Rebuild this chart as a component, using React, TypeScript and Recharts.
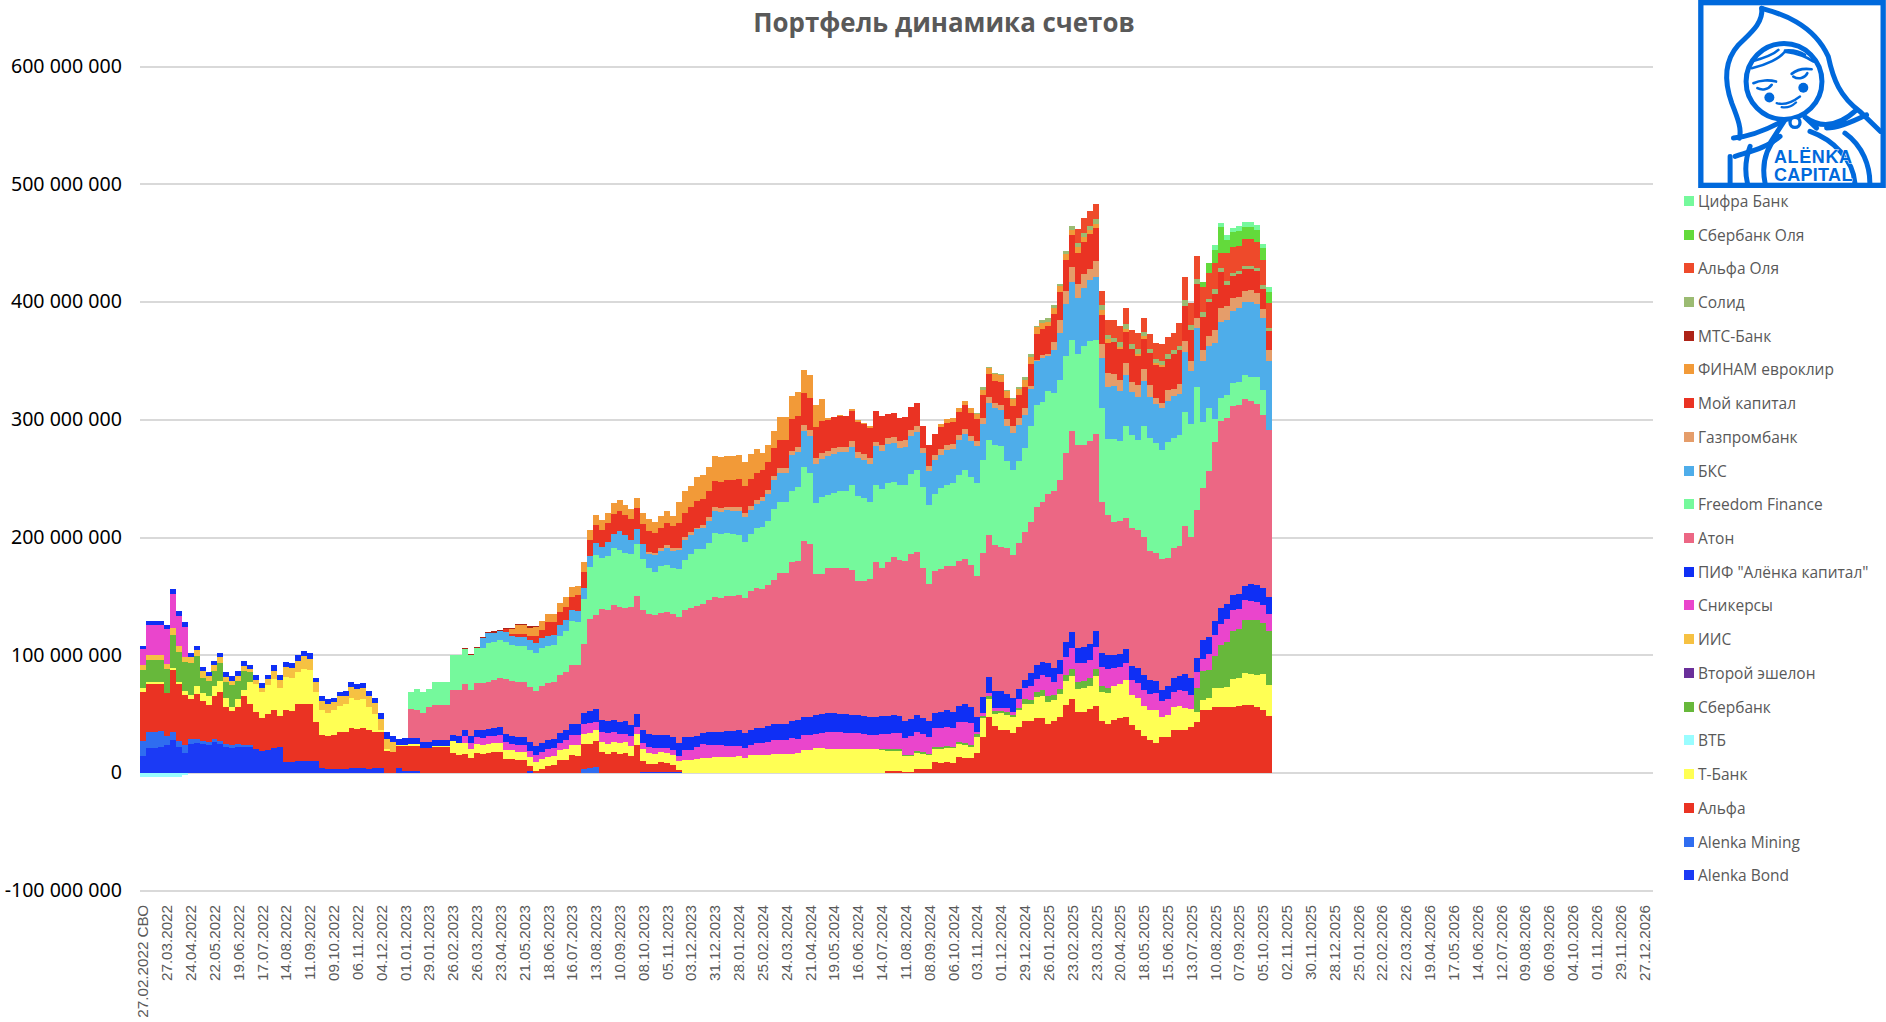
import React from "react";
import { BarChart, Bar, XAxis, YAxis, CartesianGrid } from "recharts";

const tickLabels = [
  "27.02.2022 СВО", "27.03.2022", "24.04.2022", "22.05.2022", "19.06.2022", "17.07.2022", "14.08.2022", "11.09.2022",
  "09.10.2022", "06.11.2022", "04.12.2022", "01.01.2023", "29.01.2023", "26.02.2023", "26.03.2023", "23.04.2023",
  "21.05.2023", "18.06.2023", "16.07.2023", "13.08.2023", "10.09.2023", "08.10.2023", "05.11.2023", "03.12.2023",
  "31.12.2023", "28.01.2024", "25.02.2024", "24.03.2024", "21.04.2024", "19.05.2024", "16.06.2024", "14.07.2024",
  "11.08.2024", "08.09.2024", "06.10.2024", "03.11.2024", "01.12.2024", "29.12.2024", "26.01.2025", "23.02.2025",
  "23.03.2025", "20.04.2025", "18.05.2025", "15.06.2025", "13.07.2025", "10.08.2025", "07.09.2025", "05.10.2025",
  "02.11.2025", "30.11.2025", "28.12.2025", "25.01.2026", "22.02.2026", "22.03.2026", "19.04.2026", "17.05.2026",
  "14.06.2026", "12.07.2026", "09.08.2026", "06.09.2026", "04.10.2026", "01.11.2026", "29.11.2026", "27.12.2026",
];
const weekCount = 254;
const yTicks = [-100, 0, 100, 200, 300, 400, 500, 600];
const yTickLabels = ["-100 000 000", "0", "100 000 000", "200 000 000", "300 000 000", "400 000 000", "500 000 000", "600 000 000"];

const alenkaBond = [
  15, 21.8, 21.8, 22, 24.4, 28.6, 22.7, 17.6, 25.2, 26,
  25, 24.4, 26.9, 25.2, 22.7, 21.8, 22.7, 22.7, 22.7, 21,
  19.3, 20.1, 21.8, 22.7, 9.9, 9.9, 10.8, 10.8, 10.8, 10.8,
  4.8, 4, 4, 4, 4, 4.8, 4.8, 4.8, 4, 4.8,
  4.8, 0, 0, 4.8, 2.3, 2.3, 2.3, 0, 0, 0,
  0, 0, 0, 0, 0, 0, 0, 0, 0, 0,
  0, 0, 0, 0, 0, 2.3, 0, 0, 0, 0,
  0.5, 0.5, 0.5, 0.5, 0, 0, 0, 0, 0, 0,
  0, 0, 0, 0, 0.8, 0.8, 0.8, 0.8, 0.8, 0.8,
  0.8,
];
const alenkaMining = [
  12.8, 13.6, 13.6, 13.6, 7.6, 6, 5, 6, 4.2, 3.4,
  2.5, 2.5, 2.5, 2.5, 2.5, 2.5, 2.5, 1.7, 1.7, 0,
  0, 0, 0, 0, 0, 0, 0, 0, 0, 0,
  0, 0, 0, 0, 0, 0, 0, 0, 0, 0,
  0, 0, 0, 0, 0, 0, 0, 0, 0, 0,
  0, 0, 0, 0, 0, 0, 0, 0, 0, 0,
  0, 0, 0, 0, 0, 0, 0, 0, 0, 0,
  0, 0, 0, 0, 3.4, 4.2, 5.1,
];
const alfa = [
  40.8, 40, 40, 40, 36.5, 52.7, 48.4, 42.5, 34, 38.2,
  34, 31.4, 36.5, 41.6, 31.4, 28.9, 31.4, 40.8, 34, 31.4,
  28, 30.6, 32.3, 25.5, 44.2, 43.3, 47.6, 48.4, 47.6, 32.3,
  28, 28, 28.9, 30.6, 30.6, 34, 33.1, 34, 33.1, 30.6,
  30.6, 19.3, 18.4, 18.7, 21.2, 21.2, 21.2, 21.8, 21.8, 22.7,
  22.7, 22.7, 17.6, 15.9, 16.7, 13.3, 17.6, 16.7, 17.6, 18.4,
  18.4, 12.5, 12.5, 11.6, 11.6, 4.2, 2.3, 4, 6.5, 6.8,
  11, 11, 15.3, 14.4, 21.2, 20.4, 22, 17.8, 16.1, 17.8,
  16.1, 17, 14.4, 23.8, 9.4, 6.8, 6.8, 8.5, 7.7, 6,
  1.7, 0, 0, 0, 0, 0, 0, 0, 0, 0,
  0.6, 0, 0, 0, 0, 0, 0, 0, 0, 0,
  0, 0, 0, 0, 0, 0, 0, 0, 0, 0,
  0, 0, 0, 0, 0, 1.7, 1.7, 1.7, 0.8, 0.8,
  3.4, 3.4, 3.4, 9.3, 8.5, 9.3, 9.1, 13.4, 12.7, 12.7,
  17.6, 30.6, 47.6, 40, 37.1, 37.1, 33.9, 39.1, 44.6, 44,
  46.6, 46.6, 41.4, 44, 47.6, 57.7, 62.9, 51.8, 51.8, 54.4,
  57, 44, 41.4, 45, 46.6, 47.6, 40.7, 36.5, 31.3, 28,
  26.1, 30.6, 30.6, 37.1, 37.1, 37.1, 39.1, 43.3, 53.4, 53.4,
  56, 56, 56, 56, 56.7, 57.7, 57.7, 56, 53.4, 48.2,
];
const tBank = [
  3.4, 1.7, 1.7, 1.7, 0, 1.7, 1.7, 3.4, 3.4, 6.8,
  6.8, 7.6, 8.5, 9.3, 7.6, 3.4, 6.8, 5.9, 18.7, 23.8,
  22.1, 24.6, 26.3, 23.8, 28, 28, 27.2, 29.7, 28.9, 25.5,
  21.2, 19.5, 20.4, 22.9, 23.8, 25.5, 24.6, 24.6, 19.5, 15.3,
  1.7, 1.7, 0, 0.8, 0.8, 1.7, 1.7, 0, 0, 0.8,
  0.8, 0.8, 10.2, 10.2, 9.3, 7.6, 7.6, 7.6, 7.6, 7.6,
  7.6, 7.6, 7.6, 6.8, 6.8, 7.6, 7.6, 8.5, 7.6, 7.6,
  8.5, 9.3, 8.5, 9.3, 8.5, 9.3, 9.3, 8.5, 8.5, 8.5,
  9.3, 9.3, 8.5, 9.3, 10.2, 9.3, 8.5, 8.5, 8.5, 8.5,
  7.6, 11, 11, 11.9, 12.7, 12.7, 13.6, 13.6, 13.6, 13.6,
  13.8, 12.7, 15.3, 15.3, 15.3, 15.3, 16.1, 16.1, 16.1, 16.1,
  17, 19.5, 19.5, 21.2, 21.2, 20.4, 20.4, 20.4, 20.4, 20.4,
  20.4, 20.4, 20.4, 20.4, 19.5, 17, 17, 17, 13.6, 13.6,
  13.6, 12.7, 11.9, 11, 11.9, 11.9, 12.4, 11.1, 11.7, 9.8,
  13.4, 16, 15.3, 10.7, 13.7, 12.7, 13.7, 14.7, 14.3, 14.7,
  18.2, 18.9, 18.9, 18.2, 19.5, 20.5, 19.5, 19.9, 20.8, 19.5,
  25.4, 25.4, 26.4, 28.7, 29, 31.3, 25.4, 27, 25.7, 25.7,
  27.7, 16.9, 18.6, 18.9, 19.9, 18.6, 15.6, 9.1, 9.1, 10.4,
  16.3, 16.3, 17.6, 23.8, 24.1, 27.4, 26.4, 27.4, 30.6, 26.4,
];
const vtb = [-3.5, -3.5, -3.5, -3.5, -3.5, -3.5, -3.5, -1.4];
const sberbank = [
  15.3, 18.7, 18.7, 18.7, 20.4, 28, 25.5, 24.6, 27.2, 25.5,
  12.7, 12.7, 12.7, 15.3, 13.6, 18.7, 15.3, 16.1, 8.5, 0,
  0, 0, 0, 0, 0, 0, 0, 0, 0, 0,
  0, 0, 0, 0, 0, 0, 0, 0, 0, 0,
  0, 0, 0, 0, 0, 0, 0, 0, 0, 0,
  0, 0, 0, 0, 0, 0, 0, 0, 0, 0,
  0, 0, 0, 0, 0, 0, 0, 0, 0, 0,
  0, 0, 0, 0, 0, 0, 0, 0, 0, 0,
  0, 0, 0, 0, 0, 0, 0, 0, 0, 0,
  0, 0, 0, 0, 0, 0, 0, 0, 0, 0,
  0, 0, 0, 0, 0, 0, 0, 0, 0, 0,
  0, 0, 0, 0, 0, 0, 0, 0, 0, 0,
  0, 0, 0, 0, 0.8, 1.7, 1.7, 1.7, 0.8, 0.8,
  1.7, 1.7, 0.8, 1.7, 1.7, 1.7, 1, 2.3, 1.3, 1.6,
  2, 1.6, 2.6, 2, 2.3, 2.6, 2, 2, 3.9, 3.6,
  3.9, 4.9, 5.2, 4.6, 4.2, 4.9, 6.5, 5.9, 5.5, 6.8,
  6.5, 4.9, 4.9, 0, 0, 0, 0, 0, 0, 0,
  0, 0, 0, 0, 0, 0, 0, 20.2, 24.1, 23.5,
  27, 36.2, 38.1, 41.4, 42, 45, 45.9, 46.6, 44, 46.3,
];
const vtoroyEshelon: number[] = [];
const iis = [
  4.2, 4.2, 4.2, 4.2, 4.2, 6, 5, 5, 5, 5,
  6, 4.2, 5, 5, 4.2, 3.4, 4.2, 4.2, 2.5, 3.4,
  3.4, 5.1, 6.8, 7.6, 8.5, 8.5, 9.3, 11, 9.3, 8.5,
  7.6, 7.6, 7.6, 8.5, 7.6, 9.3, 9.3, 9.3, 9.3, 9.3,
  9.3, 8.5, 8.5,
];
const snickers = [
  14.4, 25.5, 25.5, 25.5, 29.7, 28.9, 25.5, 25.5, 0, 0,
  0, 0, 0, 0, 0, 0, 0, 0, 0, 0,
  0, 0, 0, 0, 0, 0, 0, 0, 0, 0,
  0, 0, 0, 0, 0, 0, 0, 0, 0, 0,
  0, 0, 0, 0, 0, 0, 0, 0, 0, 0,
  0, 0, 0, 0, 5.9, 5.1, 5.9, 5.9, 6.8, 5.9,
  6.8, 6.8, 5.1, 5.9, 5.9, 5.1, 5.9, 5.9, 6.8, 6.8,
  5.9, 7.6, 8.5, 8.5, 8.5, 8.5, 6.8, 8.5, 9.3, 8.5,
  7.6, 6.8, 8.5, 5.9, 5.1, 5.1, 5.1, 3.4, 4.2, 4.2,
  4.2, 8.5, 8.5, 10.2, 11.9, 11, 10.2, 10.2, 9.3, 9.3,
  8.5, 8.5, 8.5, 10.2, 10.2, 11, 11.9, 11.9, 11.9, 13.6,
  11.9, 12.7, 12.7, 11.9, 12.7, 14.4, 14.4, 14.4, 14.1, 13.6,
  13.6, 13, 12.5, 12.5, 12.7, 12.7, 13.6, 13.6, 14.4, 16.1,
  16.1, 15.3, 14.4, 16.1, 16.1, 16.1, 15.6, 16.6, 18.2, 18.9,
  2, 2.9, 2.3, 2.9, 2.6, 3.3, 2.3, 7.5, 9.8, 11.4,
  11.1, 13, 16.3, 10.4, 12.7, 15.6, 17.3, 15.6, 15.3, 15.3,
  18.2, 15.6, 15.6, 15.3, 14.7, 14.7, 12.7, 13.4, 13.7, 14,
  14, 14, 13.7, 13.4, 13.4, 14, 11.4, 13, 10.1, 14,
  17.9, 18.6, 19.5, 17.3, 16.6, 17.3, 16.3, 15.3, 14.7, 14.3,
];
const pifAlenka = [
  2.5, 3.4, 3.4, 3.4, 3.4, 4.2, 4.2, 4.2, 3.4, 3.4,
  3.4, 3.4, 3.4, 3.4, 4.2, 4.2, 4.2, 4.2, 4.2, 4.2,
  4.2, 3.4, 5.1, 4.2, 4.2, 4.2, 5.1, 4.2, 5.1, 4.2,
  4.2, 4.2, 3.4, 3.4, 4.2, 4.2, 4.2, 4.2, 4.2, 4.2,
  5.1, 5.9, 5.1, 5.1, 5.9, 5.1, 5.1, 5.1, 5.1, 5.1,
  5.1, 5.1, 5.1, 5.9, 5.1, 5.9, 5.9, 6.8, 5.9, 6.8,
  6.8, 6.8, 6.8, 6.8, 6.8, 7.6, 7.6, 7.6, 7.6, 7.6,
  8.5, 8.5, 9.3, 9.3, 9.3, 10.2, 11, 10.2, 10.2, 10.2,
  10.2, 11, 9.3, 11, 11, 11, 11, 11, 11, 11,
  11, 11, 11, 9.3, 9.3, 11, 11, 11, 12.7, 12.7,
  13.6, 12.7, 12.7, 12.7, 12.7, 13.6, 13.6, 13.6, 13.6, 14.4,
  16.1, 15.3, 15.3, 16.1, 16.1, 16.1, 16.1, 15.8, 15.6, 15.3,
  15.3, 15, 14.7, 14.7, 15.3, 15.3, 15.3, 14.4, 14.4, 14.4,
  14.4, 13.6, 13.6, 12.7, 13.6, 14.4, 14.3, 14, 14.7, 13,
  13, 13.4, 13.7, 14, 14, 12, 12.4, 8.1, 6.2, 11.4,
  12, 11.4, 11.7, 12, 12, 13, 13.7, 13, 13.7, 13.7,
  13.7, 12, 11.7, 11.1, 10.7, 11.7, 12, 12.4, 12.7, 11.1,
  10.4, 9.4, 11.1, 11.4, 12, 14.3, 15, 12, 16.3, 14.3,
  12, 13.4, 12.4, 13, 12.7, 11.7, 14.3, 14.3, 14.7, 14.3,
];
const aton = [
  24.6, 23.8, 24.6, 29.7, 29.7, // from week 45
  29.7, 29.7, 38.2, 39, 39, 39, 39.9, 39.9, 40, 40.8,
  41.6, 46.7, 46.7, 46.7, 46.7, 46.7, 46.7, 48.4, 48.4, 48.4,
  49.3, 49.3, 50.1, 50.1, 58.6, 78.2, 79.9, 94.3, 94.3, 97.7,
  97.7, 96, 100.3, 100.3, 102, 102, 102, 103.7, 104.5, 104.5,
  107, 107.9, 109.6, 110.5, 109.6, 112.2, 114.8, 113.9, 114.7, 114.7,
  114.7, 114.7, 117.9, 119, 118.1, 119.8, 122.4, 128.3, 128.3, 135.1,
  135.1, 149.6, 147, 120.4, 119.5, 123.8, 123.8, 123.5, 124.1, 123.3,
  113.9, 114.7, 117, 132.2, 125.8, 130.9, 134.3, 132.6, 136, 140.2,
  138.5, 127.5, 116.7, 120.7, 121.5, 122.4, 123.5, 123.1, 123.5, 121.2,
  119.9, 122.5, 120.8, 124.1, 122.5, 123.5, 120.8, 124.1, 125.7, 128.3,
  134.5, 135.8, 143.6, 150.5, 153.1, 160.6, 170.4, 172.3, 172, 172.6,
  167.4, 128.7, 119.5, 113, 113.4, 111.7, 117.6, 117.6, 116.9, 110.1,
  109.1, 111.1, 108.8, 110.4, 110.7, 126, 119.2, 126, 129.3, 141,
  151.8, 158.3, 158.3, 160.3, 160.3, 158.3, 155.4, 154.1, 147.2, 141.7,
];
const freedom = [
  14.4, 17.8, 17.8, 15.3, 19.5, // from week 45
  19.5, 19.5, 28.9, 29.7, 29.7, 29.7, 29.7, 29.7, 33.1, 32.3,
  32.3, 31.4, 30.6, 30.6, 30.6, 31.4, 32.3, 32.3, 31.1, 31.4,
  33.1, 34.8, 37.4, 36.5, 38.2, 44.2, 51, 43.3, 45.9, 48.4,
  48.4, 46.7, 45, 44.2, 43.3, 39.1, 36.5, 39.9, 39.9, 39.1,
  40.8, 42.5, 45.9, 48.4, 46.7, 48.4, 54.4, 54.4, 53.5, 52.7,
  51, 47.6, 48.4, 51, 52.7, 54.4, 60.3, 60.3, 60.3, 60.3,
  62.9, 62.9, 60.3, 60.3, 65.4, 62, 63.7, 65.4, 65.4, 72.2,
  72.2, 70.5, 65.4, 64.6, 67.1, 67.1, 63.7, 63.7, 64.6, 68,
  69.7, 68.8, 67.1, 65.4, 68.8, 68.8, 70.7, 72.6, 75.6, 74.6,
  78.8, 79.2, 81.1, 84.7, 85.3, 73.6, 72.6, 70, 72, 81.1,
  86.6, 85, 87.9, 83.1, 85, 82.1, 77.2, 77.9, 83.4, 84.4,
  80.1, 79.2, 64.5, 70.4, 67.4, 78.2, 79.2, 75.9, 94.8, 96.1,
  92.8, 92.8, 98.7, 93.8, 94.5, 97.1, 96.7, 104.6, 56.4, 53.7,
  19.5, 19.9, 18.9, 19.2, 20.2, 20.5, 20.8, 22.5, 21.2, 0,
];
const bks = [
  8.5, 8.5, 7.6, // from week 57
  7.6, 8.5, 7.6, 7.6, 7.6, 8.5, 8.5, 8.5, 8.5, 8.5,
  9.3, 9.3, 9.3, 9.3, 9.3, 9.3, 10.2, 9.3, 11.9, 11.9,
  16.1, 15.3, 11.9, 12.7, 12.7, 11.9, 14.4, 12.7, 14.4, 14.4,
  16.1, 17, 16.1, 17, 17.8, 18.7, 18.7, 18.7, 19.5, 20.1,
  20.4, 21.2, 20.4, 20.4, 22, 22.9, 24.6, 24.6, 24.6, 30.6,
  29.7, 30.6, 31.4, 33.1, 32.3, 33.1, 32.3, 33.1, 33.1, 32.3,
  32.3, 32.3, 32.3, 33.1, 32.3, 33.1, 33.1, 31.4, 32.3, 32.3,
  32.3, 28.9, 28.9, 28.9, 28, 29.5, 29, 30.3, 30, 30,
  30.9, 30.6, 30.6, 31.6, 30.6, 30, 31.6, 30.6, 27.4, 31.6,
  36.8, 36.8, 29.3, 36.2, 40, 44, 49.5, 46.9, 49.2, 51.8,
  52.8, 42.7, 44.3, 45, 42.7, 42.7, 35.8, 37.1, 38.1, 34.9,
  33.2, 35.2, 34.9, 35.2, 34.2, 50.2, 44.6, 50.2, 51.5, 52.1,
  65.1, 64.5, 64.5, 61.2, 62.5, 61.9, 63.8, 62.5, 60.9, 59.3,
];
const gazprombank = [
  1.7, 1.7, 2.5, 2.5, 2.5, // from week 85
  2.5, 2.5, 2.5, 0.8, 2.5, 3.4, 3.4, 3.4, 2.5, 2.8,
  3.4, 3.4, 3.4, 3.4, 3.4, 3.4, 3.4, 4.2, 4.2, 3.4,
  4.2, 5.1, 5.1, 5.1, 5.1, 4.2, 5.1, 4.2, 4.2, 5.1,
  5.1, 5.1, 5.1, 4.2, 5.1, 5.1, 5.1, 5.9, 5.9, 5.1,
  5.1, 4.2, 4.2, 4.2, 5.1, 4.5, 4.2, 4.2, 4.9, 4.2,
  4.2, 4.9, 5.9, 4.6, 4.9, 5.9, 5.2, 5.9, 5.9, 2.6,
  1.6, 2.6, 1.6, 7.5, 10.4, 11.4, 12.7, 12.4, 12, 10.1,
  13.7, 11.7, 12, 10.4, 9.8, 10.1, 9.1, 9.4, 9.8, 10.1,
  5.2, 4.6, 8.8, 6.5, 9.1, 9.4, 8.8, 7.8, 8.8, 9.1,
  11.1, 11.7, 11.4, 11.1, 9.4, 9.4, 9.4, 9.1, 7.2, 8.5,
];
const moyKapital = [
  2.5, 1.7, 2.5, 2.5, 3.4, 5.9, 6.8, 11.9, 11, // from week 61
  11, 11, 11, 13.6, 13.6, 13.6, 15.3, 14.4, 16.1, 17,
  17, 17, 17.8, 17.8, 17, 17.8, 17, 17, 18.7, 18.7,
  21.2, 20.4, 21.2, 22.9, 22, 22, 22, 22, 22.9, 22.9,
  23.8, 22.9, 22.9, 22.9, 22.9, 23.8, 23.8, 23.8, 23.8, 27.2,
  26.3, 27.2, 27.2, 26.3, 27.2, 26.3, 26.3, 26.3, 26.3, 25.5,
  25.5, 25.5, 25.5, 25.5, 24.6, 20.4, 20.4, 19.5, 19.5, 19.5,
  19.5, 18.7, 17.8, 17.8, 18.7, 18.7, 18.6, 19.5, 19.9, 19.5,
  18.9, 19.9, 19.5, 18.6, 19.2, 17.9, 17.6, 18.9, 17.9, 19.2,
  22.1, 22.1, 23.8, 23.1, 24.1, 25.7, 27.4, 26.1, 27.7, 29,
  28, 25.1, 25.1, 27, 25.7, 27, 28, 25.1, 25.4, 26.7,
  28.3, 30.3, 27, 29, 28.3, 30.3, 26.4, 29.6, 28.7, 28.3,
  30.6, 30.9, 17.9, 19.2, 19.2, 18.9, 17.9, 18.6, 17.6, 16.6,
];
const finamEuroclear = [
  4.2, 7.6, 7.6, 6.8, 7.6, 7.6, 6.8, 6.8, // from week 62
  7.6, 8.5, 8.5, 7.6, 8.5, 8.5, 8.5, 8.5, 8.5, 9.3,
  9.3, 8.5, 8.5, 8.5, 9.3, 10.2, 9.3, 10.2, 10.2, 8.5,
  17.8, 18.7, 17.8, 20.4, 20.4, 20.4, 21.2, 21.2, 20.4, 20.4,
  20.4, 20.4, 21.2, 20.4, 14.4, 14.4, 14.4, 19.5, 19.5, 19.5,
  20.4, 19.5, 19.5, 18.7, 18.7, 1.7, 0.8, 0.8, 0, 1.7,
  1.7, 0.8, 1.7, 0.8, 0, 0, 0, 0, 0, 0,
  0, 0, 0, 0, 2.5, 3.4, 3.3, 3.3, 3.3, 4.9,
  4.2, 4.2, 4.6, 5.5, 6.2, 5.9, 5.5, 5.2, 6.5, 5.5,
  5.5, 4.9, 3.9, 5.2, 4.9, 5.5, 4.6, 4.9, 4.2, 3.6,
  3.9, 4.2, 3.6, 0, 2, 2.3, 0, 1.6, 2.6, 0,
  2, 2,
];
const mtsBank = [
  0.8, 0.8, 0.8, 0.8, 0.8, 1.7, 0.8, 0.8, 0.8, 0.8, // from week 54
  0.8, 1.7, 0.8,
];
const solid = [
  1, 2, 1.3, 1, 0.3, 0.7, 1.3, 1.6, 2.6, 2.6, // from week 140
  1, 2.6, 2.6, 2.6, 2.3, 2.3, 2.9, 3.6, 2.9, 3.3,
  3.9, 3.9, 3.3, 3.9, 3.9, 3.9, 3.6, 4.6, 3.3, 3.3,
  3.3, 3.3, 3.6, 3.3, 3.3, 4.6, 3.6, 3.6, 3.6, 3.3,
  3.6, 3.3, 3.3, 2.6, 2.6, 2.9, 2.9, 2.6, 2.9, 2.9,
];
const alfaOlya = [
  11.7, 12.7, 13, // from week 157
  12.7, 11.7, 13, 15, 13.7, 13.7, 12.7, 13.4, 12.7, 12.7,
  13, 14, 14.3, 15, 19.5, 19.5, 18.6, 19.5, 21.5, 21.8,
  22.8, 13, 24.1, 22.1, 21.8, 22.5, 22.5, 21.8, 21.2, 20.5,
];
const sberOlya = [4.2, 8.8, 10.7, 21.5, 10.7, 12.4, 12.7, 10.7, 10.4, 10.4, 10.1, 9.8]; // from week 178
const tsifra = [3.9, 3.3, 4.2, 3.3, 3.6, 4.2, 4.6, 4.2, 3.6, 3.9]; // from week 180

// stack order, bottom to top
const seriesList = [
  { key: "Alenka Bond", color: "#1B3AF5", values: alenkaBond, start: 0 },
  { key: "Alenka Mining", color: "#2F6DF0", values: alenkaMining, start: 0 },
  { key: "Альфа", color: "#EA3323", values: alfa, start: 0 },
  { key: "Т-Банк", color: "#FFFF54", values: tBank, start: 0 },
  { key: "ВТБ", color: "#99FDFF", values: vtb, start: 0 },
  { key: "Сбербанк", color: "#67B83B", values: sberbank, start: 0 },
  { key: "Второй эшелон", color: "#6A2F9A", values: vtoroyEshelon, start: 0 },
  { key: "ИИС", color: "#F6C142", values: iis, start: 0 },
  { key: "Сникерсы", color: "#EA45CC", values: snickers, start: 0 },
  { key: 'ПИФ "Алёнка капитал"', color: "#0F2FF5", values: pifAlenka, start: 0 },
  { key: "Атон", color: "#EC6784", values: aton, start: 45 },
  { key: "Freedom Finance", color: "#75F99C", values: freedom, start: 45 },
  { key: "БКС", color: "#4EADEA", values: bks, start: 57 },
  { key: "Газпромбанк", color: "#E59D6A", values: gazprombank, start: 85 },
  { key: "Мой капитал", color: "#EA3323", values: moyKapital, start: 61 },
  { key: "ФИНАМ евроклир", color: "#F29A38", values: finamEuroclear, start: 62 },
  { key: "МТС-Банк", color: "#AD2317", values: mtsBank, start: 54 },
  { key: "Солид", color: "#9BBB72", values: solid, start: 140 },
  { key: "Альфа Оля", color: "#EE4A2B", values: alfaOlya, start: 157 },
  { key: "Сбербанк Оля", color: "#63DA3B", values: sberOlya, start: 178 },
  { key: "Цифра Банк", color: "#75F99C", values: tsifra, start: 180 },
];

const chartData = Array.from({ length: weekCount }, (_, week) => {
  const row: Record<string, number> = { week };
  seriesList.forEach((s) => {
    row[s.key] = s.values[week - s.start] ?? 0;
  });
  return row;
});

const WeekTick = ({ x, y, payload }: any) => {
  const label = tickLabels[payload.value / 4];
  if (!label) return null;
  return (
    <text
      transform={`translate(${x},${y + 6}) rotate(-90)`}
      textAnchor="end"
      dy="0.36em"
      fontFamily="'Liberation Sans', Arial, sans-serif"
      fontSize={15.2}
      fill="#595959"
    >
      {label}
    </text>
  );
};

const ValueTick = ({ x, y, payload }: any) => (
  <text x={x - 12} y={y - 1} dy="0.36em" textAnchor="end" fontFamily="'Noto Sans', sans-serif" fontSize={19.6} fill="#000000">
    {yTickLabels[yTicks.indexOf(payload.value)]}
  </text>
);

const LegendList = () => (
  <div
    style={{
      position: "absolute",
      left: 1684,
      top: 184,
      fontFamily: "'Open Sans', 'Noto Sans', sans-serif",
      fontSize: 15.5,
      color: "#595959",
    }}
  >
    {[...seriesList].reverse().map((s) => (
      <div key={s.key} style={{ display: "flex", alignItems: "center", height: 33.73, whiteSpace: "nowrap" }}>
        <span style={{ width: 10, height: 10, background: s.color, marginRight: 4, flex: "none" }} />
        {s.key}
      </div>
    ))}
  </div>
);

const Logo = () => (
  <svg viewBox="84 0 564 565" width={188} height={188} style={{ position: "absolute", left: 1698, top: 0 }}>
    <rect x="92" y="8" width="548" height="549" fill="#FFFFFF" stroke="#0069DC" strokeWidth="16" />
    <g fill="none" stroke="#0069DC" strokeWidth="15" strokeLinecap="round">
      <path d="M275 25 C280 70 240 100 205 135 C165 180 160 240 185 310 C205 360 215 390 208 415" />
      <path d="M275 25 C330 40 430 70 475 170 C490 240 510 290 570 335 L632 395" />
      <circle cx="342" cy="245" r="114" />
      <path d="M245 205 C290 195 330 175 345 155 M245 185 C280 175 310 165 325 150 M345 155 C380 160 410 170 430 185 M345 152 C370 150 390 155 405 165" strokeWidth="8" />
      <path d="M250 250 C270 240 300 240 318 245 M262 265 C275 272 295 270 305 255" strokeWidth="8" />
      <path d="M365 222 C385 205 405 205 425 208 M370 230 C385 240 405 235 412 220" strokeWidth="8" />
      <path d="M320 310 C345 318 370 305 390 290 M335 322 C350 325 365 320 378 308" strokeWidth="7" />
      <path d="M190 415 C240 410 300 385 345 360 M195 470 C240 455 290 445 330 410 M345 360 L300 430" />
      <path d="M405 352 C450 385 500 385 560 330 M470 385 C510 385 560 360 590 345 M405 352 L440 385" />
      <path d="M180 470 L180 550 M240 440 C225 480 225 520 232 550 M285 550 C275 500 285 450 320 410" />
      <path d="M420 395 C490 420 550 480 555 550 M525 400 C580 440 600 500 600 550" />
    </g>
    <circle cx="298" cy="293" r="15" fill="#0069DC" />
    <circle cx="400" cy="264" r="15" fill="#0069DC" />
    <circle cx="375" cy="368" r="15" fill="#FFFFFF" stroke="#0069DC" strokeWidth="10" />
    <text x="430" y="490" textAnchor="middle" fontFamily="'Liberation Sans', sans-serif" fontWeight="700" fontSize="54" fill="#0069DC" stroke="#FFFFFF" strokeWidth="3" paintOrder="stroke" letterSpacing="2">
      ALËNKA
    </text>
    <text x="430" y="545" textAnchor="middle" fontFamily="'Liberation Sans', sans-serif" fontWeight="700" fontSize="54" fill="#0069DC" stroke="#FFFFFF" strokeWidth="3" paintOrder="stroke" letterSpacing="1">
      CAPITAL
    </text>
  </svg>
);

const App = () => {
  return (
    <div style={{ position: "absolute", left: 0, top: 0, width: 1886, height: 1022, overflow: "hidden", background: "#FFFFFF" }}>
      <div
        style={{
          position: "absolute",
          left: 644,
          top: 4,
          width: 600,
          textAlign: "center",
          fontFamily: "'Open Sans', 'Noto Sans', sans-serif",
          fontWeight: 700,
          fontSize: 25.9,
          color: "#595959",
        }}
      >
        Портфель динамика счетов
      </div>
      <BarChart
        width={1886}
        height={1022}
        data={chartData}
        stackOffset="sign"
        barCategoryGap={0}
        barGap={0}
        margin={{ top: 66.7, right: 233, bottom: 0, left: 0 }}
        style={{ shapeRendering: "crispEdges" }}
      >
        <CartesianGrid vertical={false} stroke="#D9D9D9" strokeWidth={2} />
        <XAxis
          dataKey="week"
          type="category"
          interval={3}
          height={131}
          axisLine={false}
          tickLine={false}
          tick={<WeekTick />}
        />
        <YAxis
          width={140}
          domain={[-100, 600]}
          ticks={yTicks}
          interval={0}
          axisLine={false}
          tickLine={false}
          tick={<ValueTick />}
          tickMargin={0}
        />
        {seriesList.map((s) => (
          <Bar key={s.key} dataKey={s.key} stackId="accounts" fill={s.color} isAnimationActive={false} />
        ))}
      </BarChart>
      <LegendList />
      <Logo />
    </div>
  );
};

export default App;
